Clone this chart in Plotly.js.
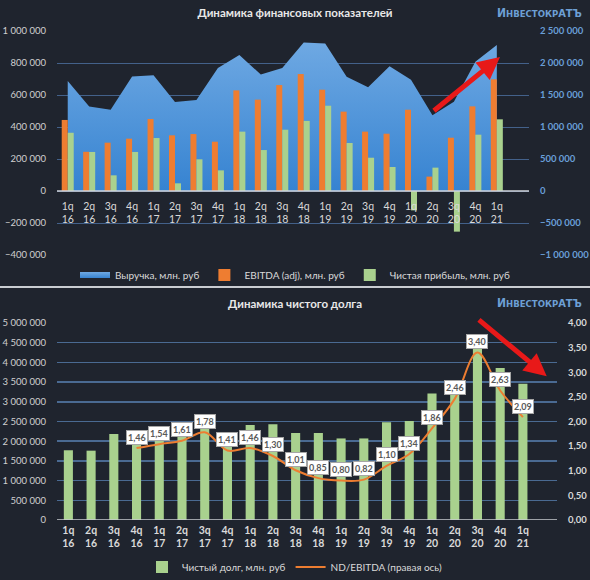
<!DOCTYPE html>
<html><head><meta charset="utf-8">
<script src="https://cdn.plot.ly/plotly-3.0.1.min.js"></script>
<style>
html,body{margin:0;padding:0;background:#1f242e;width:590px;height:580px;overflow:hidden}
#c1{position:absolute;left:0;top:0;width:590px;height:286px}
#sep{position:absolute;left:0;top:286px;width:590px;height:2px;background:#c9ccd1}
#c2{position:absolute;left:0;top:289px;width:590px;height:291px}
</style></head><body>
<div id="c1"></div><div id="sep"></div><div id="c2"></div>
<script>
// ---- data ----
const categories = ['1q<br>16','2q<br>16','3q<br>16','4q<br>16','1q<br>17','2q<br>17','3q<br>17','4q<br>17',
  '1q<br>18','2q<br>18','3q<br>18','4q<br>18','1q<br>19','2q<br>19','3q<br>19','4q<br>19',
  '1q<br>20','2q<br>20','3q<br>20','4q<br>20','1q<br>21'];
const revenue = [1720000,1320000,1270000,1790000,1810000,1390000,1420000,1920000,2125000,1820000,1920000,
  2320000,2305000,1785000,1620000,1950000,1740000,1185000,1395000,2020000,2280000];
const ebitda = [444000,245000,302000,327000,450000,348000,356000,308000,629000,571000,662000,
  731000,633000,496000,371000,358000,508000,90000,333000,529000,698000];
const netProfit = [364000,244000,98000,244000,331000,48000,198000,129000,371000,256000,383000,
  438000,533000,300000,208000,150000,-121000,146000,-254000,352000,448000];
const netDebt = [1770000,1760000,2180000,2100000,2200000,2250000,2450000,2150000,2410000,2430000,2210000,
  2210000,2070000,2070000,2480000,2510000,3210000,3400000,4390000,3860000,3460000];
const ndEbitda = [null,null,null,1.46,1.54,1.61,1.78,1.41,1.46,1.30,1.01,0.85,0.80,0.82,1.10,1.34,1.86,2.46,3.40,2.63,2.09];
const names1 = ['Выручка, млн. руб','EBITDA (adj), млн. руб','Чистая прибыль, млн. руб'];
const names2 = ['Чистый долг, млн. руб','ND/EBITDA (правая ось)'];
const title1 = 'Динамика финансовых показателей';
const title2 = 'Динамика чистого долга';

// ---- styling ----
const bg = '#1f242e';
const fam = 'Lato, "Noto Sans", sans-serif';
const txt = '#d9d9d9';
const logoText = '<span style="font-size:12px">И</span>НВЕСТОКР<span style="font-size:11px">АТЪ</span>';
const logoFont = {family:'"DejaVu Sans Condensed", "DejaVu Sans", sans-serif', size:9.5, color:'#6d9fd4', weight:'bold'};

// ===== chart 1 =====
const traces1 = [
  {type:'scatter', x:categories, y:revenue, name:names1[0], mode:'none', fill:'tozeroy',
   fillcolor:'#4a91d8',
   fillgradient:{type:'vertical', start:0, stop:2350000, colorscale:[[0,'#3683d1'],[1,'#6fa9e3']]},
   xaxis:'x', yaxis:'y', hoverinfo:'skip'},
  {type:'bar', x:categories, y:ebitda, name:names1[1], marker:{color:'#ee7d31'}, xaxis:'x', yaxis:'y2', hoverinfo:'skip'},
  {type:'bar', x:categories, y:netProfit, name:names1[2], marker:{color:'#a9d18e'}, xaxis:'x', yaxis:'y2', hoverinfo:'skip'}
];
const layout1 = {
  width:590, height:286,
  margin:{l:57, r:61, t:31, b:31, pad:0, autoexpand:false},
  paper_bgcolor:bg, plot_bgcolor:bg,
  separators:', ',
  font:{family:fam, color:txt, size:10},
  title:{text:'<b>'+title1+'</b>', font:{family:fam, size:11.5, color:'#e8e8e8'}, x:0.5, xanchor:'center', xref:'container', y:1-13/286, yanchor:'middle', yref:'container'},
  showlegend:true,
  legend:{orientation:'h', x:0.5, xanchor:'center', xref:'container', y:1-275/286, yanchor:'middle', yref:'container',
    font:{family:fam, size:10, color:txt}, bgcolor:'rgba(0,0,0,0)', traceorder:'normal'},
  barmode:'group', bargap:0.44, bargroupgap:0,
  xaxis:{type:'category', range:[-0.5,21.5], anchor:'free', position:2/7, showgrid:false, zeroline:false, showline:false,
    ticks:'', tickfont:{family:fam, size:10.5, color:txt}, ticklabelstandoff:7, fixedrange:true, automargin:false},
  yaxis:{side:'right', range:[-1000000,2500000], dtick:500000, tick0:0, tickformat:',d', showgrid:true, automargin:false,
    gridcolor:'#43618a', gridwidth:1, zeroline:false, ticks:'', tickfont:{family:fam, size:9.5, color:'#6a9fd8', weight:'bold'}, ticklabelstandoff:10},
  yaxis2:{overlaying:'y', side:'left', range:[-400000,1000000], dtick:200000, tick0:0, tickformat:',d', showgrid:false, automargin:false,
    zeroline:false, ticks:'', tickfont:{family:fam, size:9.5, color:'#d0d0d0'}, ticklabelstandoff:10},
  shapes:[{type:'line', xref:'paper', x0:0, x1:1, yref:'y', y0:0, y1:0, line:{color:'#d0d3d8', width:1.5}, layer:'above'}],
  annotations:[
    {xref:'paper', yref:'paper', x:(584-57)/472, y:(255-13)/224, xanchor:'right', yanchor:'middle', showarrow:false, text:logoText, font:logoFont},
    {xref:'x', yref:'y', x:20.15, y:2094000, axref:'x', ayref:'y', ax:17.0, ay:1234000, showarrow:true,
     arrowhead:2, arrowsize:0.9, arrowwidth:5, arrowcolor:'#e81919', standoff:0, text:''}
  ]
};
Plotly.newPlot('c1', traces1, layout1, {staticPlot:true, displayModeBar:false});

// ===== chart 2 =====
const traces2 = [
  {type:'bar', x:categories, y:netDebt, name:names2[0], marker:{color:'#a9d18e'}, xaxis:'x', yaxis:'y', hoverinfo:'skip'},
  {type:'scatter', x:categories, y:ndEbitda, name:names2[1], mode:'lines', line:{color:'#ed7d31', width:2, shape:'spline', smoothing:1},
   xaxis:'x', yaxis:'y2', connectgaps:false, hoverinfo:'skip'}
];
const labelAnn = [];
ndEbitda.forEach((v,i)=>{
  if (v === null) return;
  labelAnn.push({xref:'x', yref:'y2', x:categories[i], y:v, yshift:11, showarrow:false,
    text:'<b>'+v.toFixed(2).replace('.',',')+'</b>', font:{family:fam, size:9, color:'#595959'},
    bgcolor:'#ffffff', bordercolor:'#a6a6a6', borderwidth:1, borderpad:1});
});
const layout2 = {
  width:590, height:291,
  margin:{l:57, r:33, t:34, b:60, pad:0, autoexpand:false},
  paper_bgcolor:bg, plot_bgcolor:bg,
  separators:', ',
  font:{family:fam, color:txt, size:10},
  title:{text:'<b>'+title2+'</b>', font:{family:fam, size:11.5, color:'#e8e8e8'}, x:0.5, xanchor:'center', xref:'container', y:1-15/291, yanchor:'middle', yref:'container'},
  showlegend:true,
  legend:{orientation:'h', x:0.5, xanchor:'center', xref:'container', y:1-278/291, yanchor:'middle', yref:'container',
    font:{family:fam, size:10, color:txt}, bgcolor:'rgba(0,0,0,0)', traceorder:'normal'},
  bargap:0.6,
  xaxis:{type:'category', range:[-0.5,21.5], showgrid:false, zeroline:false, showline:false, automargin:false,
    ticks:'', tickfont:{family:fam, size:10.5, color:txt, weight:'bold'}, ticklabelstandoff:2, fixedrange:true},
  yaxis:{range:[0,5000000], dtick:500000, tick0:0, tickformat:',d', showgrid:true, gridcolor:'#4a6a92', gridwidth:1.5, automargin:false,
    zeroline:false, ticks:'', tickfont:{family:fam, size:9.5, color:'#d0d0d0'}, ticklabelstandoff:10},
  yaxis2:{overlaying:'y', side:'right', range:[0,4], dtick:0.5, tick0:0, tickformat:'.2f', showgrid:false, zeroline:false, automargin:false,
    ticks:'', tickfont:{family:fam, size:9.5, color:txt, weight:'bold'}, ticklabelstandoff:10},
  shapes:[{type:'line', xref:'paper', x0:0, x1:1, yref:'y', y0:0, y1:0, line:{color:'#c8cbd0', width:1.5}, layer:'above'}],
  annotations:labelAnn.concat([
    {xref:'paper', yref:'paper', x:(584-57)/500, y:(231-14)/197, xanchor:'right', yanchor:'middle', showarrow:false, text:logoText, font:logoFont},
    {xref:'x', yref:'y2', x:21.05, y:2.92, axref:'x', ayref:'y2', ax:18.0, ay:4.09, showarrow:true,
     arrowhead:2, arrowsize:0.9, arrowwidth:5, arrowcolor:'#e81919', standoff:0, text:''}
  ])
};
Plotly.newPlot('c2', traces2, layout2, {staticPlot:true, displayModeBar:false});
</script>
</body></html>
